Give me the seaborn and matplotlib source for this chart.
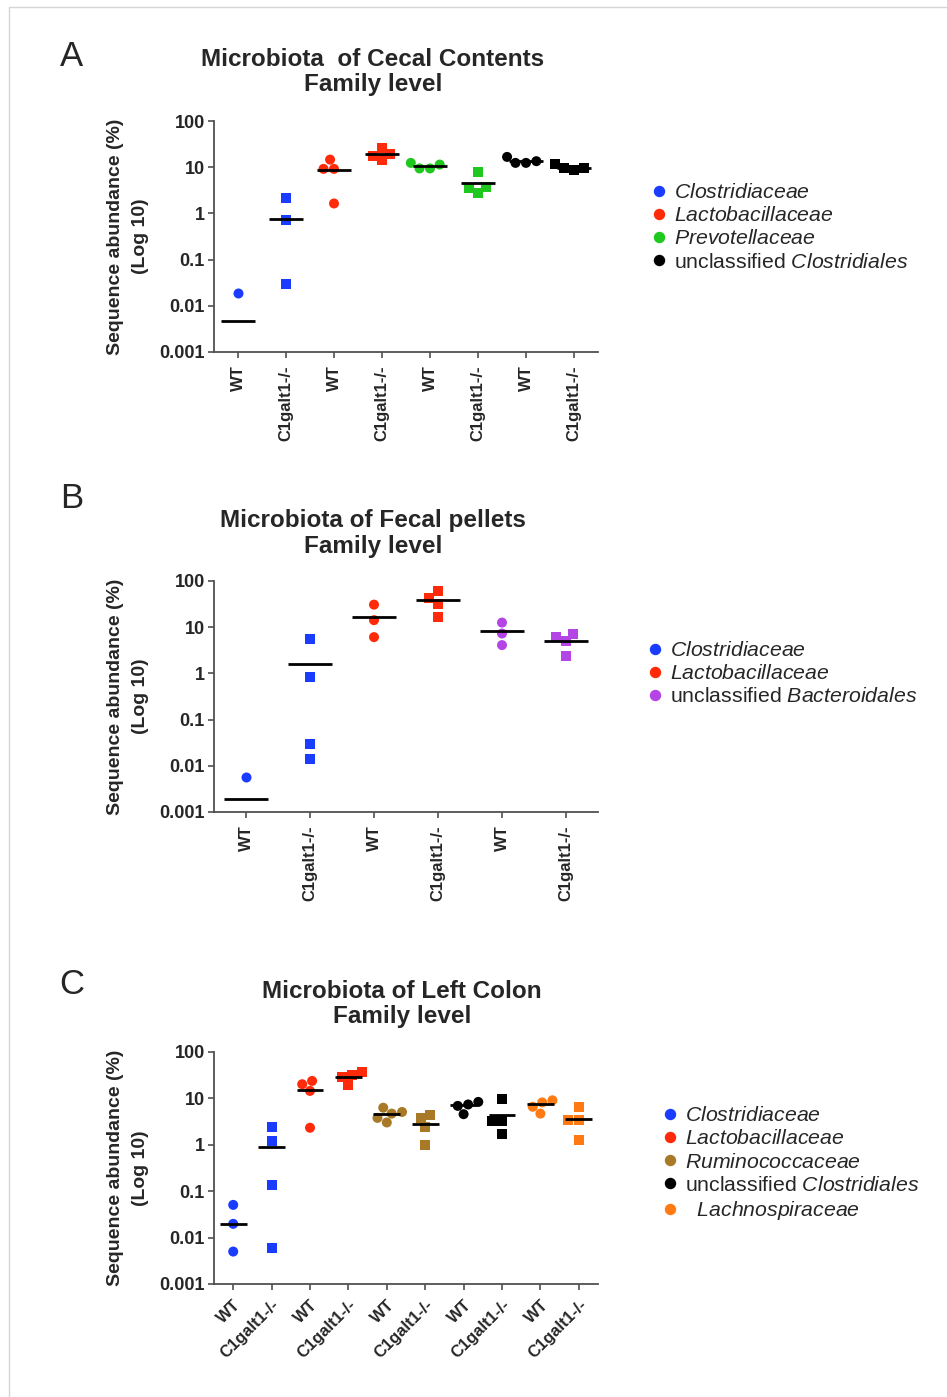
import numpy as np
import pandas as pd
import matplotlib.pyplot as plt
import seaborn as sns
from matplotlib.lines import Line2D


sns.set_style("ticks")
plt.rcParams['font.family'] = ['Liberation Sans', 'DejaVu Sans']
plt.rcParams['mathtext.fontset'] = 'custom'
plt.rcParams['mathtext.rm'] = 'Liberation Sans'
plt.rcParams['mathtext.it'] = 'Liberation Sans:italic'


genotypes = ["WT", "C1galt1-/-"]
y_ticks = [0.001, 0.01, 0.1, 1, 10, 100]
y_tick_labels = ["0.001", "0.01", "0.1", "1", "10", "100"]

# A - cecal contents
fam_a = ["Clostridiaceae", "Lactobacillaceae", "Prevotellaceae", "unclassified Clostridiales"]
col_a = ["#1a3cff", "#ff2a0a", "#1ec81e", "#000000"]
wt_a = [[0.019], [9.2, 9.2, 14.6, 1.64], [11.4, 9.4, 12.4, 9.4], [13.5, 12.4, 16.7, 12.4]]
ko_a = [[2.2, 0.71, 0.030], [19.4, 26, 14.2, 17.6], [7.8, 3.8, 3.5, 2.8], [9.8, 9.4, 11.5, 8.7]]
med_a = [0.0047, 0.75, 8.6, 19, 10.5, 4.5, 13.7, 9.8]

# B - fecal pellets
fam_b = ["Clostridiaceae", "Lactobacillaceae", "unclassified Bacteroidales"]
col_b = ["#1a3cff", "#ff2a0a", "#b444e6"]
wt_b = [[0.0057], [30.8, 14.2, 6.1], [12.6, 4.1, 7.3]]
ko_b = [[5.5, 0.85, 0.030, 0.0142], [60.8, 43, 32.4, 17], [6.0, 5.07, 7.3, 2.4]]
med_b = [0.0019, 1.62, 17, 38.9, 8.1, 5.15]

# C - left colon
fam_c = ["Clostridiaceae", "Lactobacillaceae", "Ruminococcaceae",
         "unclassified Clostridiales", "Lachnospiraceae"]
col_c = ["#1a3cff", "#ff2a0a", "#a87a28", "#000000", "#ff7a12"]
wt_c = [[0.0507, 0.0198, 0.0050], [20.2, 14.5, 23.8, 2.33], [5.1, 6.3, 3.03, 3.8, 4.7],
        [7.4, 8.4, 6.9, 4.57], [8.2, 9.1, 6.6, 4.7]]
ko_c = [[2.37, 1.20, 0.134, 0.0061], [31.6, 37, 29, 19.9], [3.7, 2.37, 4.35, 0.99],
        [9.5, 3.24, 3.24, 1.70], [3.4, 3.4, 6.4, 1.26]]
med_c = [0.0195, 0.91, 15, 29, 4.66, 2.8, 7.15, 4.36, 7.5, 3.57]


def long_table(fams, wt, ko):
    rows = []
    for i, f in enumerate(fams):
        for g, vals in zip(genotypes, (wt[i], ko[i])):
            for v in vals:
                rows.append({'family': f, 'genotype': g, 'group': f + '|' + g, 'abundance': v})
    return pd.DataFrame(rows)


def legend_label(name):
    if name.startswith("unclassified "):
        return r"$\mathrm{unclassified}\ \mathit{" + name.split(" ", 1)[1] + "}$"
    if name == "Lachnospiraceae":
        return r"$\ \ \mathit{" + name + "}$"
    return r"$\mathit{" + name + "}$"


def draw_panel(ax, fams, colors, wt, ko, medians, rot):
    df = long_table(fams, wt, ko)
    order = [f + '|' + g for f in fams for g in genotypes]
    ax.set_yscale('log')
    for g, m in zip(genotypes, ['o', 's']):
        sub = df[df['genotype'] == g]
        sns.swarmplot(data=sub, x='group', y='abundance', hue='family', hue_order=fams,
                      palette=colors, order=order, marker=m, size=7.2, linewidth=0,
                      legend=False, ax=ax, zorder=3)
    xs = np.arange(len(order))
    ax.hlines(medians, xs - 0.35, xs + 0.35, color='black', lw=2, zorder=5)
    ax.set_xlim(-0.5, len(order) - 0.5)
    ax.set_ylim(0.001, 100)
    ax.set_yticks(y_ticks)
    ax.set_yticklabels(y_tick_labels, fontsize=13, fontweight='bold')
    ax.minorticks_off()
    ax.set_xticks(xs)
    if rot == 90:
        ax.set_xticklabels(genotypes * len(fams), rotation=90, fontsize=12, fontweight='bold')
    else:
        ax.set_xticklabels(genotypes * len(fams), rotation=45, ha='right',
                           rotation_mode='anchor', fontsize=12, fontweight='bold')
    ax.set_xlabel('')
    ax.set_ylabel('')
    sns.despine(ax=ax)
    for s in ['left', 'bottom']:
        ax.spines[s].set_color('#505050')
        ax.spines[s].set_linewidth(1.3)
    ax.tick_params(axis='both', length=4.5, width=1.2, color='#505050', pad=2)
    ax.tick_params(axis='x', pad=5)


W, H = 947, 1397
fig = plt.figure(figsize=(W / 100, H / 100), dpi=100)

# light frame of the original figure
fig.add_artist(Line2D([9 / W, 1], [1 - 7 / H, 1 - 7 / H], color='#d6d6d6', lw=1))
fig.add_artist(Line2D([9 / W, 9 / W], [0, 1 - 7 / H], color='#d6d6d6', lw=1))

panels = [
    (fam_a, col_a, wt_a, ko_a, med_a, 90, 121, 352, "A", 57,
     ["Microbiota  of Cecal Contents", "Family level"], 373, 59, (659, 194)),
    (fam_b, col_b, wt_b, ko_b, med_b, 90, 581, 812, "B", 499,
     ["Microbiota of Fecal pellets", "Family level"], 373, 520, (655, 652)),
    (fam_c, col_c, wt_c, ko_c, med_c, 45, 1052, 1284, "C", 984,
     ["Microbiota of Left Colon", "Family level"], 402, 991, (670, 1117)),
]

for fams, cols, wt, ko, med, rot, top, bot, letter, ly, title, tx, ty, leg in panels:
    ax = fig.add_axes([214 / W, 1 - bot / H, 384 / W, (bot - top) / H])
    draw_panel(ax, fams, cols, wt, ko, med, rot)

    fig.text(72 / W, 1 - ly / H, letter, fontsize=25, ha='center', va='center')
    fig.text(tx / W, 1 - ty / H, title[0], fontsize=17.5, fontweight='bold', ha='center', va='center')
    fig.text(tx / W, 1 - (ty + 26) / H, title[1], fontsize=17.5, fontweight='bold', ha='center', va='center')

    yc = 1 - (top + bot) / 2 / H
    fig.text(115 / W, yc, "Sequence abundance (%)", rotation=90, fontsize=14,
             fontweight='bold', ha='center', va='center')
    fig.text(140 / W, yc, "(Log 10)", rotation=90, fontsize=14,
             fontweight='bold', ha='center', va='center')

    handles = [Line2D([], [], marker='o', ls='none', color=c, markersize=7.2) for c in cols]
    labels = [legend_label(f) for f in fams]
    fig.legend(handles, labels, loc='upper left',
               bbox_to_anchor=((leg[0] - 6.5) / W, 1 - (leg[1] - 11) / H),
               frameon=False, fontsize=15.3, borderpad=0, borderaxespad=0,
               handlelength=0.6, handletextpad=0.42, labelspacing=0.2)

fig.savefig('out.png', dpi=100)
